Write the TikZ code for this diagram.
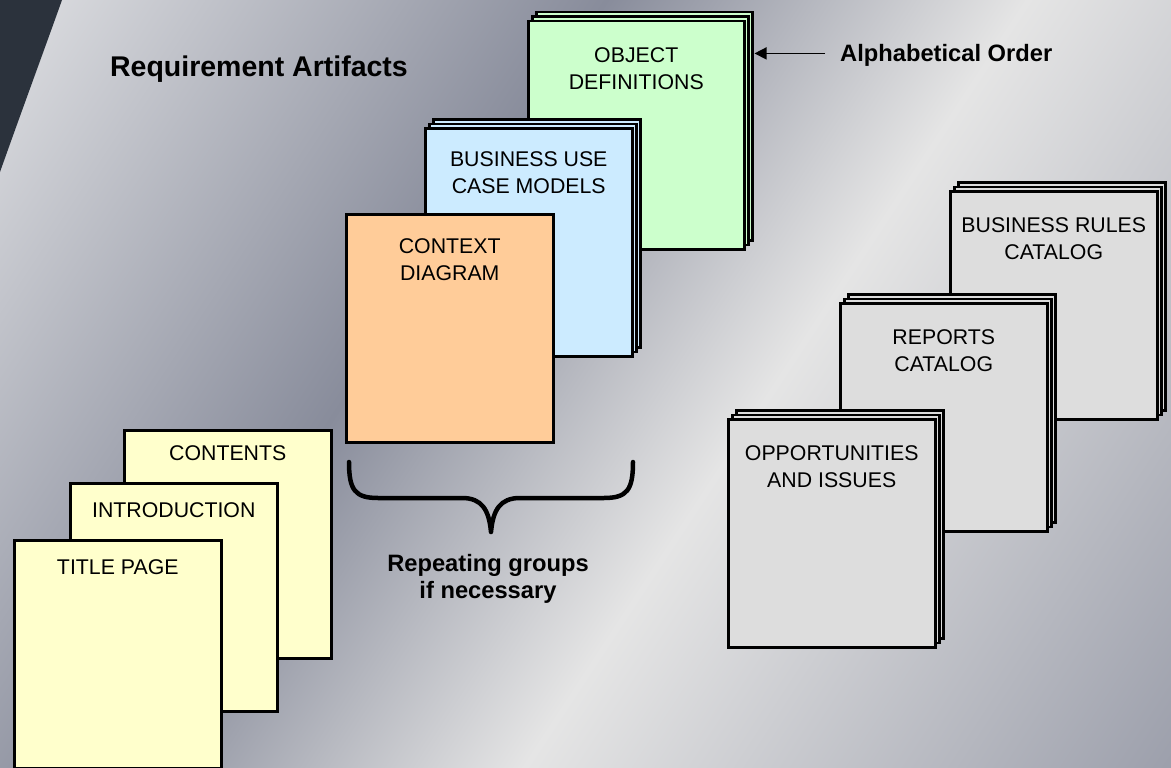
\documentclass[tikz,border=0pt]{standalone}
\usepackage{fontspec}
\setmainfont{Liberation Sans}
\usetikzlibrary{positioning,arrows.meta,shadows,calc}

\definecolor{bgLight}{HTML}{DEDFE2}
\definecolor{bgDark}{HTML}{888C9B}
\definecolor{bgShine}{HTML}{E5E5E5}
\definecolor{bgEnd}{HTML}{9DA0AC}
\definecolor{slate}{HTML}{2B323C}
\definecolor{pageYellow}{HTML}{FFFFCC}
\definecolor{pageGreen}{HTML}{CCFFCC}
\definecolor{pageBlue}{HTML}{CCEBFF}
\definecolor{pageOrange}{HTML}{FFCC99}
\definecolor{pageGray}{HTML}{DDDDDD}

% brushed metal backdrop, light-dark-light-dark along the diagonal
\pgfdeclarehorizontalshading{brushed}{100bp}{color(0bp)=(bgLight); color(15.4bp)=(bgLight); color(40.4bp)=(bgDark); color(57.9bp)=(bgShine); color(84.6bp)=(bgEnd); color(100bp)=(bgEnd)}

\begin{document}
\begin{tikzpicture}[
      x=1pt, y=-1pt,
      every node/.style={font=\fontsize{21.3}{27}\selectfont},
      sheet/.style={draw, line width=2.5pt, minimum width=207pt, minimum height=228pt, inner sep=0pt, anchor=north west},
      stack/.style={sheet, double copy shadow={shadow xshift=4pt, shadow yshift=4.5pt}},
      pagetext/.style={anchor=north, yshift=-#1, align=center, inner sep=0pt},
      pagetext/.default=27pt,
      heading/.style={font=\fontsize{23.7}{27}\selectfont\bfseries},
      arrow/.style={-{Triangle[length=12pt, width=12pt]}, line width=1.5pt},
      brace/.style={line width=4.5pt, line cap=round, line join=round},
    ]
    \useasboundingbox (0,0) rectangle (1171,768);

    % Backdrop
    \shade[shading=brushed, shading angle=-33.26] (0,0) rectangle (1171,768);
    \fill[slate] (0,0) -- (62,0) .. controls (46,45) and (22,110) .. (0,172) -- cycle;

    % Requirement artifacts
    \node[stack, fill=pageGreen, minimum width=216pt, label={[pagetext]north:OBJECT\\DEFINITIONS}] (objdef) at (527,20) {};
    \node[stack, fill=pageBlue, label={[pagetext=24pt]north:BUSINESS USE\\CASE MODELS}] (usecase) at (424,127) {};
    \node[sheet, fill=pageOrange, label={[pagetext=25pt]north:CONTEXT\\DIAGRAM}] (context) at (345,213) {};

    % Catalogs
    \node[stack, fill=pageGray, label={[pagetext]north:BUSINESS RULES\\CATALOG}] (rules) at (949,190) {};
    \node[stack, fill=pageGray, label={[pagetext]north:REPORTS\\CATALOG}] (reports) at (839,302) {};
    \node[stack, fill=pageGray, label={[pagetext]north:OPPORTUNITIES\\AND ISSUES}] (issues) at (727,418) {};

    % Front matter
    \node[sheet, fill=pageYellow, label={[pagetext=16pt]north:CONTENTS}] (contents) at (123,429) {};
    \node[sheet, fill=pageYellow, label={[pagetext=20pt]north:INTRODUCTION}] (intro) at (69,482) {};
    \node[sheet, fill=pageYellow, label={[pagetext=20pt]north:TITLE PAGE}] (titlepage) at (13,539) {};

    % Headings
    \node[font=\fontsize{28.5}{30}\selectfont\bfseries, anchor=base] (artifacts) at (259,77) {Requirement Artifacts};
    \node[heading, anchor=base west, inner xsep=15pt, text depth=0pt] (alpha) at (825,62) {Alphabetical Order};
    \node[heading, anchor=north, align=center, inner sep=0pt] (groups) at (488,554) {Repeating groups\\if necessary};

    % Arrow and brace
    \coordinate (alphatip) at ($(alpha.west -| objdef.east)+(9,0)$);
    \draw[arrow] (alpha.west) -- (alphatip);
    \draw[brace] (349,462) .. controls (349,490) and (355,498) .. (378,498) -- (462,498)
      .. controls (482,498) and (489,510) .. (491,532)
      .. controls (493,510) and (500,498) .. (520,498) -- (604,498)
      .. controls (627,498) and (633,490) .. (633,462);
  \end{tikzpicture}
\end{document}
